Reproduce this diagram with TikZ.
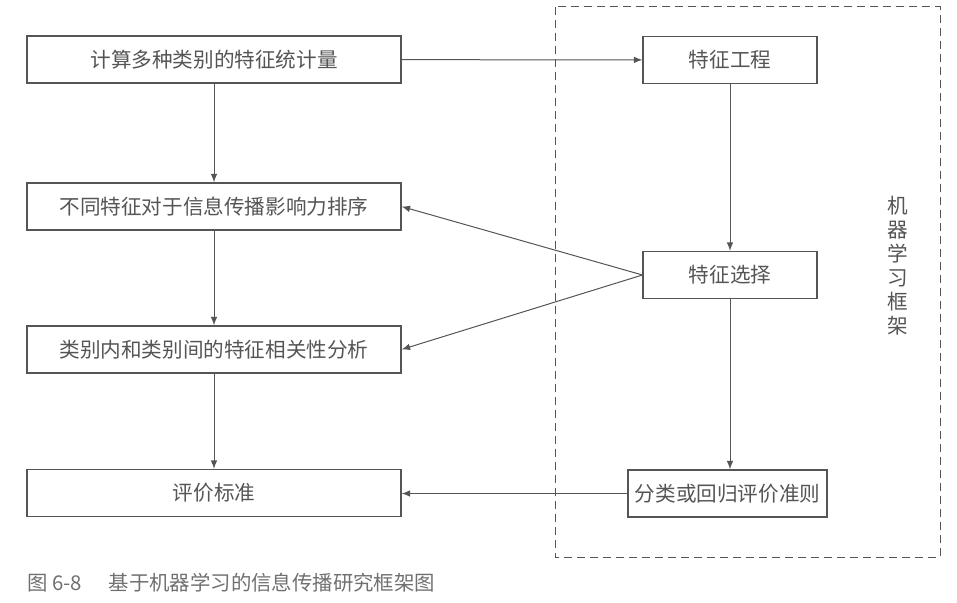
\documentclass[tikz,border=0pt]{standalone}
\usepackage{fontspec}
\newfontfamily\cjk{Noto Sans CJK SC}
\usepackage{xcolor}
\usetikzlibrary{arrows.meta}
\definecolor{grigio}{HTML}{555555}
\definecolor{grigiochiaro}{HTML}{707070}
\tikzset{
  riquadro/.style = {draw = grigio, line width = 0.55pt, fill = white, inner sep = 0pt,
    minimum height = 23.5pt, text = grigio, font = \cjk\fontsize{10.3}{12}\selectfont},
  freccia/.style = {-latex, draw = grigio, line width = 0.5pt}
}

\begin{document}
\begin{tikzpicture}[x = 0.5pt, y = -0.5pt]
    % Dimensioni
    \pgfmathsetmacro{\xsx}{214}
    \pgfmathsetmacro{\xdx}{730}
    \useasboundingbox (0,0) rectangle (957,603);
    % Cornice tratteggiata
    \draw[grigio, line width = 0.5pt, dash pattern = on 4pt off 2.5pt] (555,7) rectangle (940,557);
    \node[text = grigio, font = \cjk\fontsize{10.3}{12}\selectfont, align = center] (etichetta) at (898,266)
        {机\\器\\学\\习\\框\\架};
    % Riquadri a sinistra
    \node[riquadro, minimum width = 187pt] (statistiche) at (\xsx,59.5) {计算多种类别的特征统计量};
    \node[riquadro, minimum width = 187pt] (ordinamento) at (\xsx,206.5) {不同特征对于信息传播影响力排序};
    \node[riquadro, minimum width = 187pt] (correlazione) at (\xsx,349.5) {类别内和类别间的特征相关性分析};
    \node[riquadro, minimum width = 187pt] (criteri) at (\xsx,493) {评价标准};
    % Riquadri a destra
    \node[riquadro, minimum width = 87pt] (ingegneria) at (\xdx,60) {特征工程};
    \node[riquadro, minimum width = 87pt] (selezione) at (\xdx,275) {特征选择};
    \node[riquadro, minimum width = 99.5pt] (regressione) at (727.5,493.5) {分类或回归评价准则};
    % Collegamenti
    \draw[freccia] (statistiche) -- (ordinamento);
    \draw[freccia] (ordinamento) -- (correlazione);
    \draw[freccia] (correlazione) -- (criteri);
    \draw[freccia] (statistiche) -- (ingegneria);
    \draw[freccia] (ingegneria) -- (selezione);
    \draw[freccia] (selezione.south) -- (selezione.south |- regressione.north);
    \draw[freccia] (selezione.west) -- (ordinamento.east);
    \draw[freccia] (selezione.west) -- (correlazione.east);
    \draw[freccia] (regressione.west) -- (regressione.west -| criteri.east);
    % Didascalia
    \node[anchor = west, inner sep = 0pt, text = grigiochiaro, font = \cjk\fontsize{10.2}{12}\selectfont] (didascalia) at (27,583)
        {图 6-8\hspace{1.3em}基于机器学习的信息传播研究框架图};
\end{tikzpicture}
\end{document}
